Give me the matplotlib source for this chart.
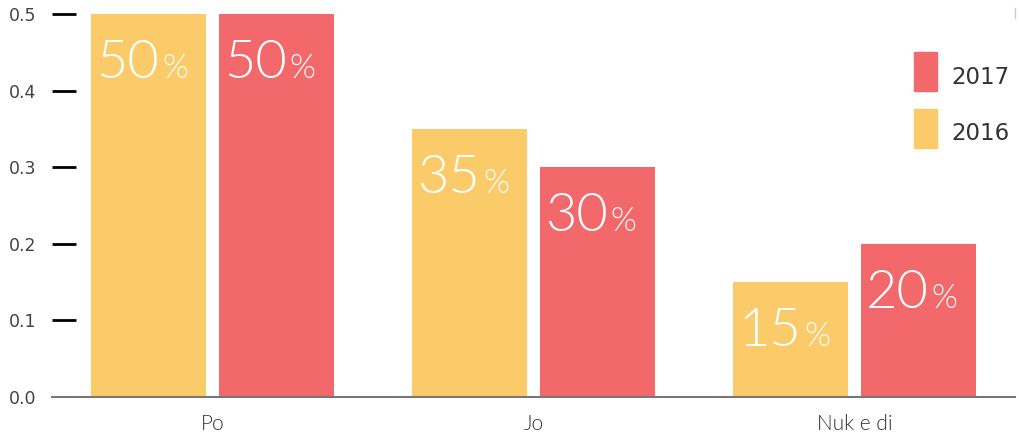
import numpy as np
import matplotlib.pyplot as plt
from matplotlib.patches import Rectangle

# datos
categorias = ["Po", "Jo", "Nuk e di"]
valores_2016 = [0.50, 0.35, 0.15]
valores_2017 = [0.50, 0.30, 0.20]
etiquetas_2016 = ["50", "35", "15"]
etiquetas_2017 = ["50", "30", "20"]
marcas_y = [0.0, 0.1, 0.2, 0.3, 0.4, 0.5]
leyenda = ["2017", "2016"]

amarillo = "#FCCB69"
rojo = "#F2686B"

fig = plt.figure(figsize=(10.2, 4.34), dpi=100)
ax = fig.add_axes([52 / 1020, 37 / 434, 963 / 1020, 383 / 434])

x = np.arange(len(categorias))
ancho = 0.358
sep = 0.04
desp = (ancho + sep) / 2

barras16 = ax.bar(x - desp, valores_2016, width=ancho, color=amarillo, zorder=2)
barras17 = ax.bar(x + desp, valores_2017, width=ancho, color=rojo, zorder=2)

# etiquetas dentro de las barras
def etiqueta(barras, textos):
    for b, t in zip(barras, textos):
        num = ax.annotate(t, xy=(b.get_x(), b.get_height()), xytext=(5, -64),
                          textcoords="offset pixels", ha="left", va="baseline",
                          color="white", fontsize=39, family="Lato",
                          fontweight=300, zorder=3)
        ax.annotate("%", xy=(1, b.get_height()), xycoords=(num, "data"),
                    xytext=(3, -64), textcoords="offset pixels",
                    ha="left", va="baseline", color="white", fontsize=24,
                    family="Lato", fontweight=300, zorder=3)

etiqueta(barras16, etiquetas_2016)
etiqueta(barras17, etiquetas_2017)

ax.set_xlim(-0.5, 2.5)
ax.set_ylim(0, 0.5)
ax.set_yticks(marcas_y)
ax.set_yticklabels([f"{v:.1f}" for v in marcas_y], fontsize=12.5,
                   color="#444444", family="DejaVu Sans")
ax.tick_params(axis="y", direction="in", length=17, width=2, color="black",
               pad=11.5)
ax.yaxis.get_major_ticks()[0].tick1line.set_visible(False)

ax.set_xticks(x)
ax.set_xticklabels(categorias, fontsize=15, color="#333333", family="Lato",
                   fontweight=300)
ax.tick_params(axis="x", length=0, pad=12)

for lado in ["top", "right", "left"]:
    ax.spines[lado].set_visible(False)
ax.spines["bottom"].set_color("#777777")
ax.spines["bottom"].set_linewidth(1.5)
ax.spines["bottom"].set_zorder(3)

# leyenda hecha a mano
for i, (nombre, color) in enumerate(zip(leyenda, [rojo, amarillo])):
    arriba = 52 + i * 57
    fig.add_artist(Rectangle((914 / 1020, 1 - (arriba + 39) / 434), 23 / 1020, 39 / 434,
                             transform=fig.transFigure, color=color))
    fig.text(951 / 1020, 1 - (arriba + 25) / 434, nombre, fontsize=16.5,
             color="#333333", family="DejaVu Sans", va="center", ha="left")

fig.add_artist(plt.Line2D([1015 / 1020, 1015 / 1020], [1 - 8 / 434, 1 - 18 / 434],
                          color="#cccccc", linewidth=1))

fig.savefig("out.png", dpi=100)
